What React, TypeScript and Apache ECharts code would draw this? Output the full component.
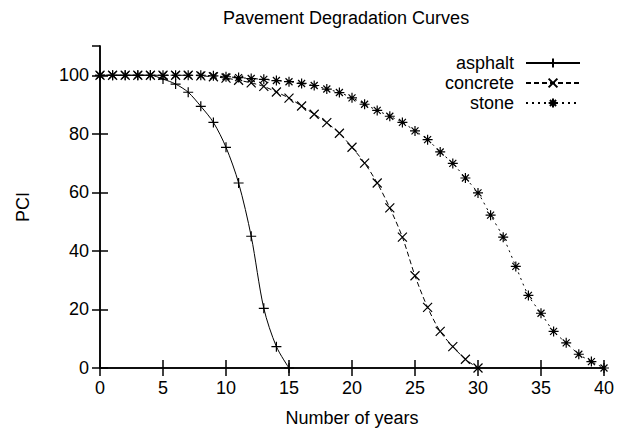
import React, { useEffect, useRef } from "react";
import * as echarts from "echarts";

const years = Array.from({ length: 41 }, (_, i) => i);
const asphalt = [100, 100, 100, 100, 100, 98.7, 97, 94.2, 89.4, 83.9, 75.4, 63.2, 45, 20.4, 7.3, 0];
const concrete = [100, 100, 100, 100, 100, 100, 100, 100, 99.8, 99.5, 99.0, 98.3, 97.4, 96.2, 94.3, 92.2, 89.5, 86.7, 83.8, 80.2, 75.4, 70, 63.2, 54.7, 44.7, 31.5, 20.7, 12.5, 7.3, 3, 0];
const stone = [100, 100, 100, 100, 100, 100, 100, 100, 100, 99.8, 99.5, 99.2, 98.9, 98.6, 98.2, 97.8, 97.2, 96.5, 95.3, 94.1, 92.3, 90.1, 88.0, 86.0, 83.9, 81.0, 78.0, 73.8, 69.9, 64.9, 59.8, 52.2, 44.7, 34.7, 24.8, 18.7, 12.5, 8.6, 4.7, 2.2, 0];
const seriesNames = ["asphalt", "concrete", "stone"];

const FONT = "'Liberation Sans', Arial, Helvetica, sans-serif";
const PLUS = "path://M0,5L10,5M5,0L5,10";
const CROSS = "path://M0,0L10,10M10,0L0,10";
const STAR = "path://M0,5L10,5M5,0L5,10M1.5,1.5L8.5,8.5M8.5,1.5L1.5,8.5";

function toPairs(vals: number[]) {
  return vals.map((v, i) => [years[i], v]);
}

export default function App() {
  const ref = useRef<HTMLDivElement>(null);
  useEffect(() => {
    if (!ref.current) return;
    const chart = echarts.init(ref.current, undefined, { renderer: "svg" });
    const axisLine = { show: true, lineStyle: { color: "#000", width: 1.5 } };
    const axisTick = { show: true, inside: true, length: 8, lineStyle: { color: "#000", width: 1.5 } };
    const mk = (name: string, vals: number[], symbol: string, type: any, size: number) => ({
      name,
      type: "line",
      data: toPairs(vals),
      symbol,
      symbolSize: size,
      showAllSymbol: true,
      smooth: 0.3,
      lineStyle: { color: "#000", width: 1, type },
      itemStyle: { color: "#000", borderColor: "#000", borderWidth: 1.2 },
      emphasis: { disabled: true },
      z: 3,
    });
    chart.setOption({
      animation: false,
      backgroundColor: "#fff",
      textStyle: { fontFamily: FONT, color: "#000" },
      title: {
        text: "Pavement Degradation Curves",
        left: 223,
        top: 9,
        padding: 0,
        textStyle: { fontFamily: FONT, fontSize: 18, fontWeight: "normal", color: "#000" },
      },
      legend: {
        data: seriesNames,
        orient: "vertical",
        align: "right",
        right: 43,
        top: 54,
        padding: 0,
        itemWidth: 54,
        itemHeight: 11,
        itemGap: 2,
        selectedMode: false,
        textStyle: { fontFamily: FONT, fontSize: 18, color: "#000", padding: [0, 7, 0, 0] },
      },
      grid: { left: 100, right: 20, top: 46, bottom: 58, containLabel: false },
      xAxis: [
        {
          type: "value",
          min: 0,
          max: 40,
          interval: 5,
          name: "Number of years",
          nameLocation: "middle",
          nameGap: 41,
          nameTextStyle: { fontFamily: FONT, fontSize: 18, color: "#000" },
          axisLine,
          axisTick,
          splitLine: { show: false },
          axisLabel: { fontFamily: FONT, fontSize: 18, color: "#000", margin: 11 },
        },
        {
          type: "value",
          position: "top",
          min: 0,
          max: 40,
          interval: 5,
          axisLine,
          axisTick,
          splitLine: { show: false },
          axisLabel: { show: false },
        },
      ],
      yAxis: [
        {
          type: "value",
          min: 0,
          max: 110,
          interval: 20,
          name: "PCI",
          nameLocation: "middle",
          nameGap: 68,
          nameRotate: 90,
          nameTextStyle: { fontFamily: FONT, fontSize: 18, color: "#000" },
          axisLine,
          axisTick,
          splitLine: { show: false },
          axisLabel: {
            fontFamily: FONT,
            fontSize: 18,
            color: "#000",
            margin: 11,
            showMaxLabel: false,
            formatter: (v: number) => (v > 100 ? "" : String(v)),
          },
        },
        {
          type: "value",
          position: "right",
          min: 0,
          max: 110,
          interval: 20,
          axisLine,
          axisTick,
          splitLine: { show: false },
          axisLabel: { show: false },
        },
      ],
      series: [
        mk("asphalt", asphalt, PLUS, "solid", 10),
        mk("concrete", concrete, CROSS, [5, 3], 9),
        mk("stone", stone, STAR, [2, 4], 10),
      ],
    });
    return () => chart.dispose();
  }, []);
  return (
    <div
      ref={ref}
      style={{ position: "absolute", left: 0, top: 0, width: 624, height: 432 }}
    />
  );
}
